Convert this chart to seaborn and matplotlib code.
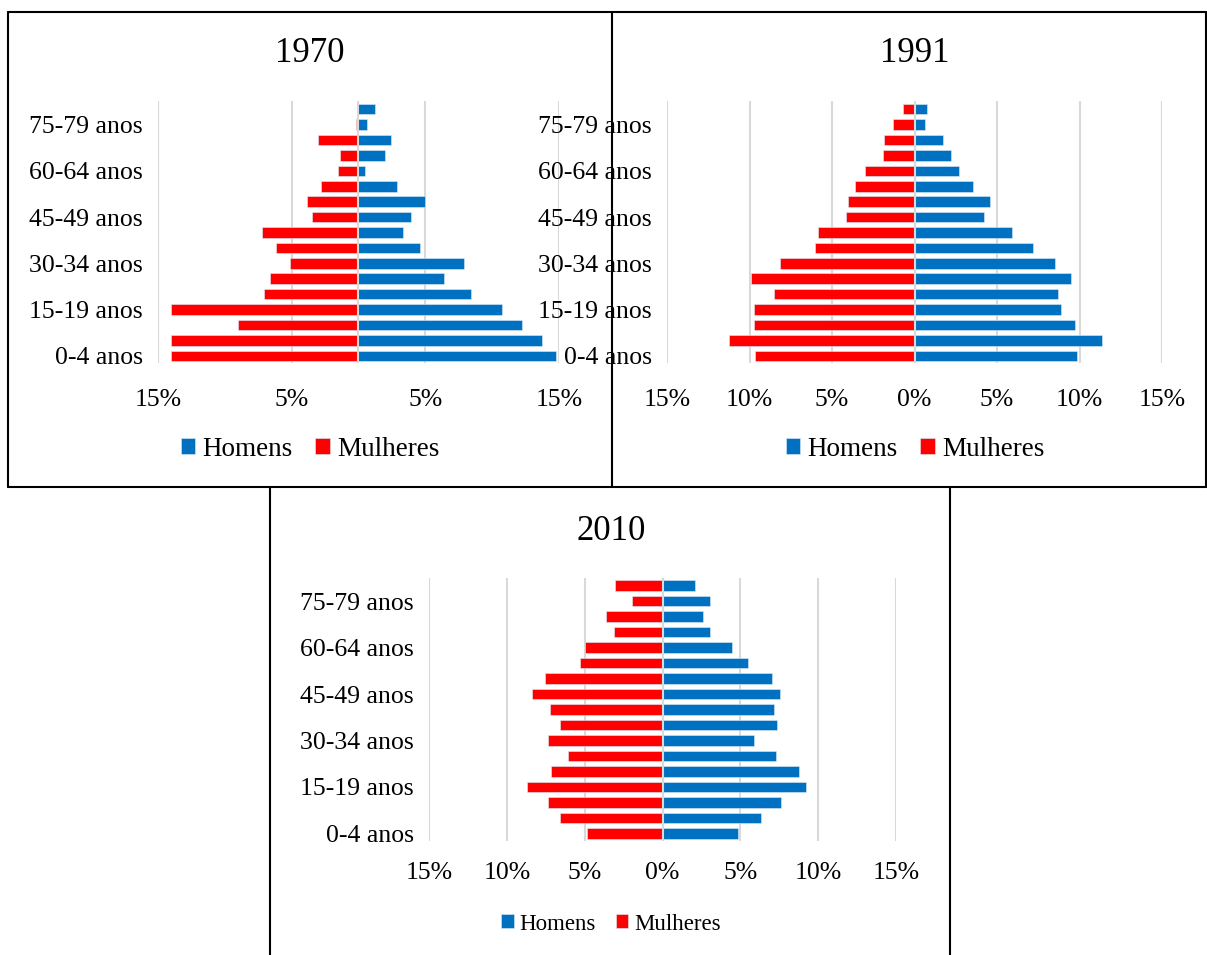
import pandas as pd
import matplotlib
matplotlib.use('Agg')
import matplotlib.pyplot as plt
import seaborn as sns
from matplotlib.lines import Line2D

faixas = ['0-4 anos', '5-9 anos', '10-14 anos', '15-19 anos', '20-24 anos',
          '25-29 anos', '30-34 anos', '35-39 anos', '40-44 anos', '45-49 anos',
          '50-54 anos', '55-59 anos', '60-64 anos', '65-69 anos', '70-74 anos',
          '75-79 anos', '80 anos ou mais']

homens_1970 = [14.8, 13.7, 12.2, 10.7, 8.4, 6.4, 7.9, 4.6, 3.35, 3.9, 5.0, 2.9, 0.5, 2.0, 2.4, 0.6, 1.2]
mulheres_1970 = [14.0, 14.0, 9.05, 14.0, 7.1, 6.6, 5.1, 6.2, 7.25, 3.5, 3.85, 2.8, 1.5, 1.4, 3.05, 0.2, 0.0]

homens_1991 = [9.83, 11.36, 9.74, 8.86, 8.7, 9.5, 8.53, 7.2, 5.9, 4.2, 4.6, 3.53, 2.7, 2.2, 1.72, 0.65, 0.78]
mulheres_1991 = [9.66, 11.25, 9.74, 9.72, 8.5, 9.9, 8.17, 6.03, 5.84, 4.16, 4.05, 3.62, 3.0, 1.9, 1.85, 1.31, 0.69]

homens_2010 = [4.82, 6.3, 7.6, 9.25, 8.79, 7.27, 5.86, 7.38, 7.16, 7.55, 7.05, 5.5, 4.45, 3.02, 2.58, 3.02, 2.07]
mulheres_2010 = [4.82, 6.61, 7.33, 8.72, 7.18, 6.1, 7.33, 6.61, 7.22, 8.41, 7.58, 5.29, 4.98, 3.13, 3.63, 1.94, 3.04]

ticks_1970 = [-15, -5, 5, 15]
ticks_outros = [-15, -10, -5, 0, 5, 10, 15]

cores = {'Homens': '#0070C0', 'Mulheres': '#FF0000'}

sns.set_theme(style='white')
plt.rcParams['font.family'] = ['Liberation Serif', 'DejaVu Serif']
plt.rcParams['text.color'] = 'black'
plt.rcParams['xtick.color'] = 'black'
plt.rcParams['ytick.color'] = 'black'

W, H = 1207, 955
fig = plt.figure(figsize=(W / 100, H / 100), dpi=100)


def fx(px):
    return px / W


def fy(py):
    return 1 - py / H


def piramide(rect, homens, mulheres, ticks, titulo, centro_x, titulo_base, legenda_y, fs_tick, fs_leg, pad_x):
    ax = fig.add_axes(rect)
    df = pd.DataFrame({
        'faixa': faixas * 2,
        'sexo': ['Homens'] * len(faixas) + ['Mulheres'] * len(faixas),
        'valor': homens + [-v for v in mulheres],
    })
    sns.barplot(data=df, x='valor', y='faixa', hue='sexo', order=faixas[::-1],
                hue_order=['Homens', 'Mulheres'], palette=cores, dodge=False,
                saturation=1, width=0.68, orient='h', edgecolor='#DDEBF7',
                linewidth=0.4, ax=ax)
    ax.set_xlim(-15, 15)
    ax.set_ylim(len(faixas) - 0.5, -0.5)
    ax.set_xticks(ticks)
    ax.set_xticklabels([f'{abs(t)}%' for t in ticks], fontsize=fs_tick)
    ax.set_yticks(range(len(faixas)))
    ax.set_yticklabels([f if faixas.index(f) % 3 == 0 else '' for f in faixas[::-1]], fontsize=fs_tick)
    ax.tick_params(axis='x', length=0, pad=pad_x)
    ax.tick_params(axis='y', length=0, pad=11)
    ax.set_xlabel('')
    ax.set_ylabel('')
    for t in ticks:
        ax.axvline(t, color='#D9D9D9', lw=1.5, zorder=0)
    ax.axvline(0, color='#D9D9D9', lw=1.5, zorder=3)
    sns.despine(ax=ax, left=True, bottom=True)
    handles, labels = ax.get_legend_handles_labels()
    ax.legend(handles, labels, loc='center', ncol=2, frameon=False, fontsize=fs_leg,
              bbox_to_anchor=(fx(centro_x), fy(legenda_y)), bbox_transform=fig.transFigure,
              handlelength=0.55, handleheight=0.55, handletextpad=0.25, columnspacing=0.85)
    fig.text(fx(centro_x), fy(titulo_base), titulo, ha='center', va='baseline', fontsize=25)
    return ax


piramide([fx(158), fy(363.5), fx(401), 262 / H], homens_1970, mulheres_1970, ticks_1970,
         '1970', 310, 62, 449, 18.5, 19.5, 18)
piramide([fx(667), fy(363.5), fx(495), 262 / H], homens_1991, mulheres_1991, ticks_outros,
         '1991', 915, 62, 449, 18.5, 19.5, 18)
piramide([fx(429), fy(841), fx(467), 263 / H], homens_2010, mulheres_2010, ticks_outros,
         '2010', 611, 540, 924, 18.5, 16.5, 15)

# molduras dos paineis
linhas = [
    ([8, 1206], [12, 12]),
    ([8, 1206], [487, 487]),
    ([8, 8], [12, 487]),
    ([612, 612], [12, 487]),
    ([1206, 1206], [12, 487]),
    ([270, 270], [487, 955]),
    ([950, 950], [487, 955]),
]
for xs, ys in linhas:
    fig.add_artist(Line2D([fx(x) for x in xs], [fy(y) for y in ys],
                          transform=fig.transFigure, color='black', lw=1.5))

fig.savefig('out.png', dpi=100)
